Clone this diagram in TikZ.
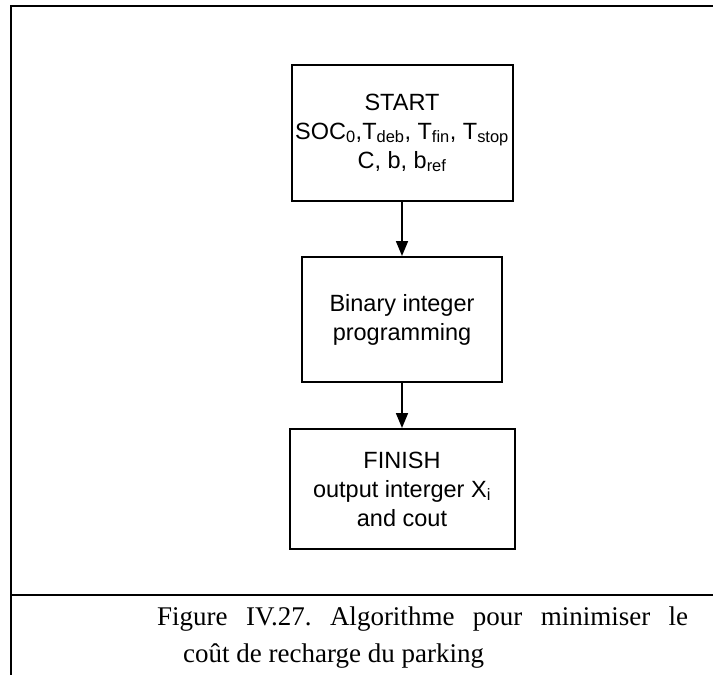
\documentclass[tikz,border=0pt]{standalone}
\usepackage{fontspec}
\setsansfont{Liberation Sans}
\newfontfamily\capfont{Liberation Serif}
\usetikzlibrary{arrows.meta,positioning}
\tikzset{
  stepbox/.style={draw=black,line width=2pt,align=center,inner sep=0pt,
    font=\sffamily\fontsize{23.5}{29}\selectfont},
  arrow/.style={-{Triangle[length=15pt,width=12pt]},draw=black,line width=1.7pt},
  frame/.style={draw=black,line width=2.6pt},
  caption/.style={anchor=base west,inner sep=0pt,font=\capfont\fontsize{27}{37}\selectfont\frenchspacing}
}
\begin{document}
\begin{tikzpicture}[x=1pt,y=-1pt,node distance=54pt]
  \useasboundingbox (0,0) rectangle (713,675);
  % outer frame
  \coordinate (topright) at (713,6);
  \coordinate (topleft) at (11,6);
  \coordinate (bottomleft) at (11,675);
  \coordinate (sepleft) at (11,595);
  \coordinate (sepright) at (713,595);
  \draw[frame] (topright) -- (topleft) -- (bottomleft);
  \draw[frame] (sepleft) -- (sepright);
  % flow chart
  \node[stepbox,minimum width=221pt,minimum height=136pt] (start) at (402,133)
    {START\\SOC\textsubscript{0},T\textsubscript{deb}, T\textsubscript{fin}, T\textsubscript{stop}\\C, b, b\textsubscript{ref}};
  \node[stepbox,minimum width=200pt,minimum height=125pt,below=54pt of start] (bip)
    {Binary integer\\programming};
  \node[stepbox,minimum width=225pt,minimum height=120pt,below=45pt of bip] (finish)
    {FINISH\\output interger X\textsubscript{i}\\and cout};
  \draw[arrow] (start) -- (bip);
  \draw[arrow] (bip) -- (finish);
  % caption (first line justified)
  \node[caption] (capone) at (157,625)
    {\makebox[531pt][s]{Figure IV.27. Algorithme pour minimiser le}};
  \node[caption] (captwo) at (183,662) {coût de recharge du parking};
\end{tikzpicture}
\end{document}
